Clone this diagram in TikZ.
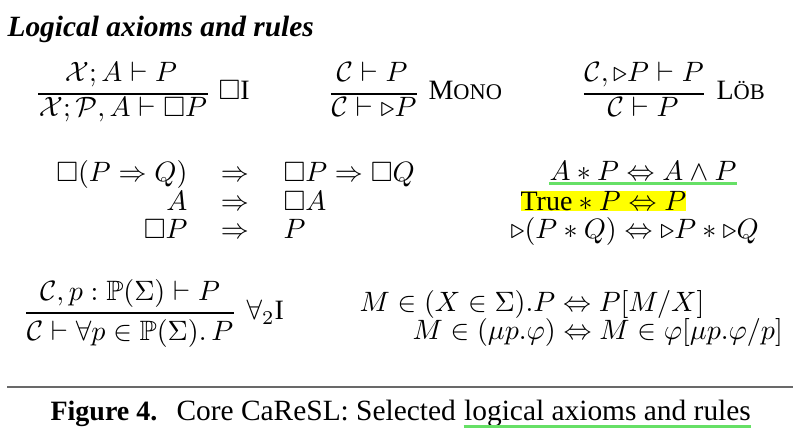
\documentclass[tikz,border=0pt]{standalone}
\usepackage[no-math]{fontspec}
\setmainfont{Liberation Serif}
\usepackage{amsmath}
\usepackage{amssymb}
\usetikzlibrary{positioning}

\definecolor{hlgreen}{RGB}{102,224,102}
\definecolor{hlyellow}{RGB}{255,255,0}
\definecolor{rulegray}{RGB}{105,105,105}
\newcommand{\later}{\mathord{\triangleright}}

\begin{document}
\begin{tikzpicture}[x=0.3571pt, y=-0.3571pt,
  fm/.style={inner sep=0pt, anchor=base},
  fl/.style={inner sep=0pt, anchor=base west},
  fr/.style={inner sep=0pt, anchor=base east},
  txt/.style={fl, font=\fontsize{10.5}{12.6}\selectfont},
  bar/.style={line width=0.5pt},
  uline/.style={hlgreen, line width=0.9pt}]
  \useasboundingbox (0,0) rectangle (799,441);

  \node[txt, font=\fontsize{10.5}{12.6}\selectfont\bfseries\itshape] (title) at (7,37) {Logical axioms and rules};

  % rules
  \node[fm] (boxNum) at (121,82) {$\mathcal{X}; A \vdash P$};
  \node[fm] (boxDen) at (123,117) {$\mathcal{X}; \mathcal{P}, A \vdash \Box P$};
  \draw[bar] (boxDen.west |- 0,94) -- (boxDen.east |- 0,94);
  \node[fl] (boxLbl) at (218,100) {$\Box$I};

  \node[fm] (monoNum) at (372,82) {$\mathcal{C} \vdash P$};
  \node[fm] (monoDen) at (374,117) {$\mathcal{C} \vdash \later P$};
  \draw[bar] (monoDen.west |- 0,94) -- (monoDen.east |- 0,94);
  \node[fl] (monoLbl) at (428,100) {M{\footnotesize ONO}};

  \node[fm] (lobNum) at (644,82) {$\mathcal{C}, \later P \vdash P$};
  \node[fm] (lobDen) at (643,117) {$\mathcal{C} \vdash P$};
  \draw[bar] (lobNum.west |- 0,94) -- (lobNum.east |- 0,94);
  \node[fl] (lobLbl) at (716,100) {L{\footnotesize ÖB}};

  % axioms
  \node[fr] (axL1) at (188,182) {$\Box(P \Rightarrow Q)$};
  \node[fm] (axM1) at (235,182) {$\Rightarrow$};
  \node[fl] (axR1) at (283,182) {$\Box P \Rightarrow \Box Q$};
  \node[fr] (axL2) at (188,210.5) {$A$};
  \node[fm] (axM2) at (235,210.5) {$\Rightarrow$};
  \node[fl] (axR2) at (283,210.5) {$\Box A$};
  \node[fr] (axL3) at (188,239) {$\Box P$};
  \node[fm] (axM3) at (235,239) {$\Rightarrow$};
  \node[fl] (axR3) at (283,239) {$P$};

  \node[fl] (sepAnd) at (549,181) {$A * P \Leftrightarrow A \wedge P$};
  \draw[uline] ([yshift=-0.9pt]sepAnd.base west) -- ([yshift=-0.9pt]sepAnd.base east);
  \node[fl, fill=hlyellow] (sepTrue) at (520,210.5) {$\text{True} * P \Leftrightarrow P$};
  \node[fl] (sepLater) at (510,239) {$\later(P * Q) \Leftrightarrow \later P * \later Q$};

  \node[fm] (allNum) at (130,300.5) {$\mathcal{C}, p : \mathbb{P}(\Sigma) \vdash P$};
  \node[fm] (allDen) at (130,340.5) {$\mathcal{C} \vdash \forall p \in \mathbb{P}(\Sigma).\, P$};
  \draw[bar] (allDen.west |- 0,313) -- (allDen.east |- 0,313);
  \node[fl] (allLbl) at (246,320) {$\forall_2$I};

  \node[fl] (memX) at (359,311.5) {$M \in (X \in \Sigma).P \Leftrightarrow P[M/X]$};
  \node[fl] (memMu) at (412,340) {$M \in (\mu p.\varphi) \Leftrightarrow M \in \varphi[\mu p.\varphi/p]$};

  % caption
  \draw[rulegray, line width=0.8pt] (7,387) -- (793,387);
  \node[fl, font=\bfseries] (figNo) at (50,421) {Figure 4.};
  \node[txt] (capA) at (176,421) {Core CaReSL: Selected};
  \node[txt, base right=2.6pt of capA] (capB) {logical axioms and rules};
  \draw[uline, line width=1pt] ([yshift=-2pt]capB.base west) -- ([yshift=-2pt]capB.base east);
\end{tikzpicture}
\end{document}
